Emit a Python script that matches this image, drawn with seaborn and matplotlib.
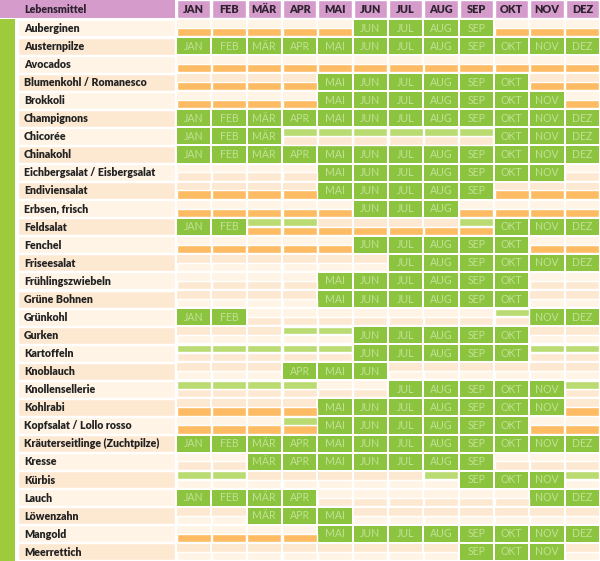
import numpy as np
import pandas as pd
import matplotlib
matplotlib.use("Agg")
import matplotlib.pyplot as plt
from matplotlib.colors import ListedColormap
from matplotlib.patches import Rectangle
import seaborn as sns

months = ["JAN", "FEB", "MÄR", "APR", "MAI", "JUN", "JUL", "AUG", "SEP", "OKT", "NOV", "DEZ"]
foods = ["Auberginen", "Austernpilze", "Avocados", "Blumenkohl / Romanesco", "Brokkoli",
         "Champignons", "Chicorée", "Chinakohl", "Eichbergsalat / Eisbergsalat", "Endiviensalat",
         "Erbsen, frisch", "Feldsalat", "Fenchel", "Friseesalat", "Frühlingszwiebeln",
         "Grüne Bohnen", "Grünkohl", "Gurken", "Kartoffeln", "Knoblauch",
         "Knollensellerie", "Kohlrabi", "Kopfsalat / Lollo rosso", "Kräuterseitlinge (Zuchtpilze)", "Kresse",
         "Kürbis", "Lauch", "Löwenzahn", "Mangold", "Meerrettich"]
# G = full season cell, L = light green strip (top), O = orange strip (bottom), B = both, . = nothing
season = ["OOOOOGGGGOOO", "GGGGGGGGGGGG", "OOOOOOOOOOOO", "OOOOGGGGGGOO", "OOOOGGGGGGGO",
          "GGGGGGGGGGGG", "GGGLLLLLLGGG", "GGGGGGGGGGGG", "....GGGGGGG.", "OOOOGGGGGOOO",
          "OOOOOGGGOOOO", "GGBBOOOOBGGG", "OOOOOGGGGGOO", "......GGGGGG", "....GGGGGG..",
          "....GGGGGG..", "GG.......LGG", "...LLGGGGG..", "LLLLLGGGGGLL", "...GGG......",
          "LLLL..GGGGGL", "OOOOGGGGGGGO", "OOOBGGGGGGOO", "GGGGGGGGGGGG", "..GGGGGGG...",
          "LL.....LGGGL", "GGGG......GG", "..GGG.......", "OOOOGGGGGGGG", "........GGG."]

green = "#8cc43f"
light_green = "#badb72"
orange = "#fdbb63"
cream = ["#fff4e6", "#fde9d2"]
purple = "#d59ccb"
stripe = "#9dcb3c"

sns.set_style("white")
plt.rcParams["font.family"] = ["Lato", "DejaVu Sans"]

fig = plt.figure(figsize=(6, 5.61), dpi=100)
ax = fig.add_axes([0, 0, 1, 1])

codes = np.array([list(s) for s in season])
rows = np.arange(len(foods))
parity = np.repeat((rows % 2)[:, None], 12, axis=1)
bg = np.where(codes == "G", 2, parity)
labels = np.where(codes == "G", np.array(months)[None, :], "")

sns.heatmap(pd.DataFrame(bg, index=foods, columns=months),
            cmap=ListedColormap([cream[0], cream[1], green]), vmin=0, vmax=2,
            cbar=False, linewidths=1.3, linecolor="white",
            annot=labels, fmt="", annot_kws=dict(color="#c2e196", fontsize=7.6),
            ax=ax)

# lower half of each non-season cell: orange or alternate cream
rr, cc = np.where(codes != "G")
low_cols = [orange if codes[r, c] in "OB" else cream[1 - r % 2] for r, c in zip(rr, cc)]
ax.bar(cc + 0.5, 0.46, width=0.96, bottom=rr + 0.49, color=low_cols, zorder=2)

# upper light green strips
rl, cl = np.where(np.isin(codes, ["L", "B"]))
ax.bar(cl + 0.5, 0.42, width=0.96, bottom=rl + 0.04, color=light_green, zorder=2)

# name column
ax.barh(rows + 0.5, 4.44, height=0.94, left=-4.47,
        color=[cream[r % 2] for r in rows], zorder=2)
for r, name in enumerate(foods):
    ax.text(-4.30, r + 0.52, name, va="center", ha="left", fontsize=7.7,
            fontweight="heavy", color="#222222", zorder=3)

# green stripe on the left
ax.add_patch(Rectangle((-4.98, 0), 0.42, 30, color=stripe, zorder=2, lw=0))

# header
ax.add_patch(Rectangle((-4.98, -1.05), 4.95, 1.02, color=purple, zorder=2, lw=0))
ax.bar(np.arange(12) + 0.5, 1.02, width=0.95, bottom=-1.05, color=purple, zorder=2)
ax.text(-4.30, -0.5, "Lebensmittel", va="center", ha="left", fontsize=7.7,
        fontweight="heavy", color="#2e2230", zorder=3)
for i, m in enumerate(months):
    ax.text(i + 0.5, -0.5, m, va="center", ha="center", fontsize=7.8,
            fontweight="heavy", color="#2e2230", zorder=3)

ax.set_xlim(-4.98, 12)
ax.set_ylim(30, -1.05)
ax.axis("off")

fig.savefig("out.png", dpi=100, facecolor="white")
